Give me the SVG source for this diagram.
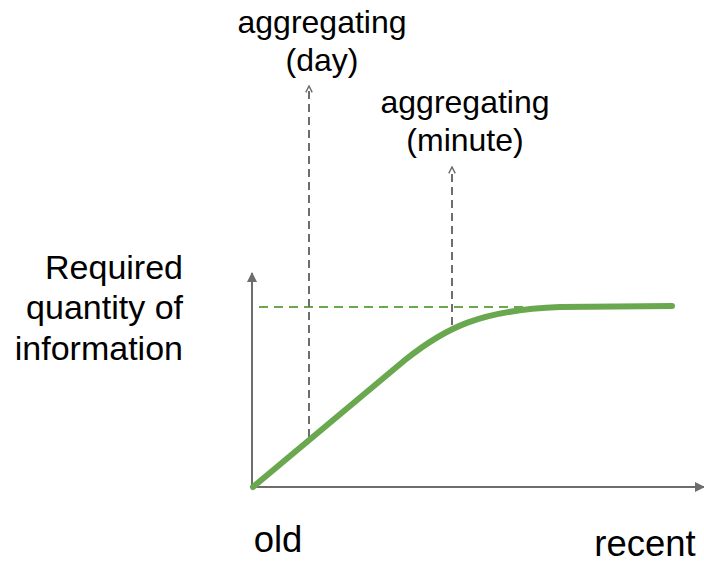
<svg xmlns="http://www.w3.org/2000/svg" width="704" height="564" viewBox="0 0 704 564">
  <style>
    .label { font-family: "Liberation Sans", Arial, sans-serif; fill: #000; }
    .axis { stroke: #6d6d6d; stroke-width: 2; fill: none; }
    .guide { stroke: #6d6d6d; stroke-width: 2; stroke-dasharray: 8 5; fill: none; }
    .level { stroke: #6aa84f; stroke-width: 2; stroke-dasharray: 9 6; fill: none; }
    .curve { stroke: #6aa84f; stroke-width: 6; stroke-linecap: round; stroke-linejoin: round; fill: none; }
  </style>
  <defs>
    <marker id="axisHead" viewBox="0 0 10 10" refX="9" refY="5" markerWidth="5.5" markerHeight="5" orient="auto" markerUnits="strokeWidth">
      <path d="M0,0 L10,5 L0,10 Z" fill="#6d6d6d"/>
    </marker>
    <marker id="guideHead" viewBox="0 0 10 10" refX="9" refY="5" markerWidth="4" markerHeight="4" orient="auto" markerUnits="strokeWidth">
      <path d="M1,1 L9,5 L1,9" fill="none" stroke="#6d6d6d" stroke-width="1.8"/>
    </marker>
  </defs>
  <rect width="704" height="564" fill="#ffffff"/>

  <g id="axes">
    <line class="axis" x1="252" y1="488" x2="252" y2="273" marker-end="url(#axisHead)"/>
    <line class="axis" x1="251" y1="487" x2="704" y2="487" marker-end="url(#axisHead)"/>
  </g>

  <g id="connectors">
    <line class="level" x1="259" y1="307" x2="550" y2="307"/>
    <line class="guide" x1="309" y1="437" x2="309" y2="86" marker-end="url(#guideHead)"/>
    <line class="guide" x1="452" y1="325" x2="452" y2="167" marker-end="url(#guideHead)"/>
  </g>

  <g id="curve">
    <path class="curve" d="M253,487 L405,360 C445,328 480,310 560,307 L672,306"/>
  </g>

  <g id="label-day">
    <text class="label" x="322" y="33" font-size="32" text-anchor="middle">aggregating</text>
    <text class="label" x="322" y="71" font-size="32" text-anchor="middle">(day)</text>
  </g>
  <g id="label-minute">
    <text class="label" x="465" y="113" font-size="32" text-anchor="middle">aggregating</text>
    <text class="label" x="465" y="151" font-size="32" text-anchor="middle">(minute)</text>
  </g>
  <g id="label-quantity">
    <text class="label" x="183" y="279" font-size="34" text-anchor="end">Required</text>
    <text class="label" x="183" y="319" font-size="34" text-anchor="end">quantity of</text>
    <text class="label" x="183" y="360" font-size="34" text-anchor="end">information</text>
  </g>
  <g id="label-old">
    <text class="label" x="278" y="552" font-size="36.5" text-anchor="middle">old</text>
  </g>
  <g id="label-recent">
    <text class="label" x="645" y="556" font-size="36.5" text-anchor="middle">recent</text>
  </g>
</svg>
